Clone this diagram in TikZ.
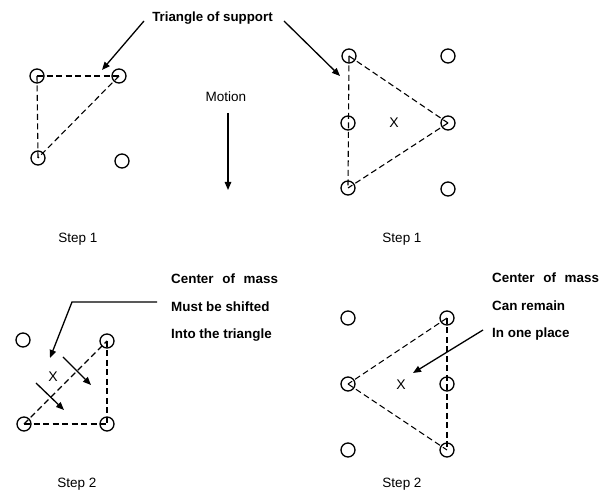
\documentclass[tikz,border=0pt]{standalone}
\usepackage{fontspec}
\setmainfont{Liberation Sans}
\usetikzlibrary{arrows.meta}
\begin{document}
\begin{tikzpicture}[x=1pt,y=-1pt,
  foot/.style={circle,draw,line width=1.3pt,minimum size=14pt,inner sep=0pt},
  supp/.style={line width=1.1pt,dash pattern=on 6pt off 3.5pt},
  arr/.style={line width=1.3pt,-{Triangle[length=8pt,width=6.5pt]}},
  lbl/.style={font=\fontsize{13.5}{16}\selectfont,inner sep=0pt,anchor=base},
  blbl/.style={font=\fontsize{13.4}{16}\selectfont\bfseries,inner sep=0pt,anchor=base west},
  xmark/.style={font=\fontsize{14}{16}\selectfont,inner sep=0pt}]
\useasboundingbox (0,0) rectangle (611,502);

% ---- Step 1, left ----
\node[foot] (a1) at (37,76) {};
\node[foot] (a2) at (119,76) {};
\node[foot] (a3) at (38,158) {};
\node[foot] (a4) at (122,161) {};
\draw[supp] (a1.center) -- (a2.center);
\draw[supp] (a1.center) -- (a3.center);
\draw[supp] (a2.center) -- (a3.center);

% ---- Step 1, right ----
\node[foot] (b1) at (349,56) {};
\node[foot] (b2) at (448,56) {};
\node[foot] (b3) at (348,123) {};
\node[foot] (b4) at (448,123) {};
\node[foot] (b5) at (348,188) {};
\node[foot] (b6) at (448,189) {};
\draw[supp] (b1.center) -- (b5.center);
\draw[supp] (b1.center) -- (b4.center);
\draw[supp] (b4.center) -- (b5.center);
\node[xmark] (bx) at (394,123) {X};

% ---- labels, top ----
\node[lbl,font=\fontsize{13.3}{16}\selectfont\bfseries] (tri) at (212.5,21.5) {Triangle of support};
\coordinate (triL) at (144,21);
\coordinate (triR) at (284,21);
\coordinate (tipL) at (102,70);
\coordinate (tipR) at (340,76);
\draw[arr] (triL) -- (tipL);
\draw[arr] (triR) -- (tipR);

\node[lbl] (mot) at (226,102) {Motion};
\coordinate (m0) at (228,113);
\coordinate (m1) at (228,190);
\draw[arr] (m0) -- (m1);

\node[lbl] (s1a) at (78,243) {Step 1};
\node[lbl] (s1b) at (402,243) {Step 1};

% ---- Step 2, left ----
\node[foot] (c1) at (23,340) {};
\node[foot] (c2) at (107,341) {};
\node[foot] (c3) at (24,424) {};
\node[foot] (c4) at (107,424) {};
\draw[supp] (c3.center) -- (c4.center);
\draw[supp] (c2.center) -- (c4.center);
\draw[supp] (c3.center) -- (c2.center);
\node[xmark] (cx) at (53,377) {X};
\coordinate (p0) at (63,357);
\coordinate (p1) at (91,385);
\coordinate (q0) at (36,383);
\coordinate (q1) at (64,410);
\draw[arr] (p0) -- (p1);
\draw[arr] (q0) -- (q1);

\node[blbl] (ct1) at (171,284) {Center\hspace{5pt} of\hspace{5pt} mass};
\node[blbl] (ct2) at (171,312) {Must be shifted};
\node[blbl] (ct3) at (171,339) {Into the triangle};
\coordinate (k0) at (157,302);
\coordinate (k1) at (72,302);
\coordinate (k2) at (50,358);
\draw[arr] (k0) -- (k1) -- (k2);

% ---- Step 2, right ----
\node[foot] (d1) at (348,318) {};
\node[foot] (d2) at (447,318) {};
\node[foot] (d3) at (348,384) {};
\node[foot] (d4) at (447,384) {};
\node[foot] (d5) at (348,450) {};
\node[foot] (d6) at (447,450) {};
\draw[supp] (d2.center) -- (d6.center);
\draw[supp] (d2.center) -- (d3.center);
\draw[supp] (d3.center) -- (d6.center);
\node[xmark] (dx) at (401,385) {X};

\node[blbl] (dt1) at (492,283) {Center\hspace{5pt} of\hspace{5pt} mass};
\node[blbl] (dt2) at (492,311) {Can remain};
\node[blbl] (dt3) at (492,338) {In one place};
\coordinate (r0) at (483,330);
\coordinate (r1) at (413,373);
\draw[arr] (r0) -- (r1);

\node[lbl] (s2a) at (77,488) {Step 2};
\node[lbl] (s2b) at (402,488) {Step 2};
\end{tikzpicture}
\end{document}
